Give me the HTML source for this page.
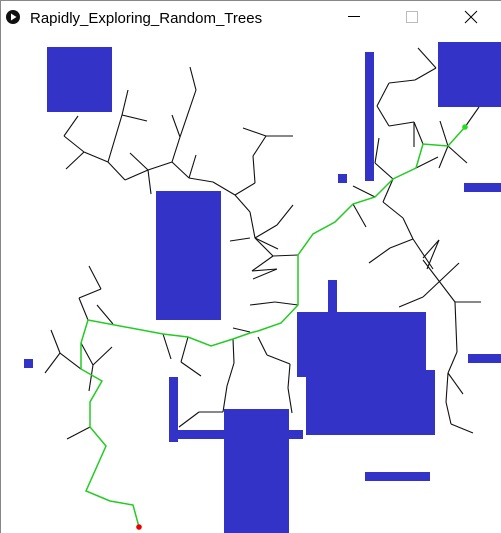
<!DOCTYPE html>
<html><head><meta charset="utf-8"><style>
html,body{margin:0;padding:0;background:#fff;width:501px;height:533px;overflow:hidden}
svg{display:block}
</style></head><body>
<svg id="s" width="501" height="533" viewBox="0 0 501 533" xmlns="http://www.w3.org/2000/svg">
<rect x="0" y="0" width="501" height="533" fill="#fff"/>
<line x1="0" y1="0.5" x2="501" y2="0.5" stroke="#888"/>
<line x1="0.5" y1="0" x2="0.5" y2="533" stroke="#888"/>
<g>
<circle cx="13" cy="17" r="7" fill="#111"/>
<polygon points="11,13.5 11,20.5 16.5,17" fill="#fff"/>
<text x="30" y="23" font-family="Liberation Sans, sans-serif" font-size="15" fill="#000">Rapidly_Exploring_Random_Trees</text>
<line x1="348" y1="16.5" x2="360" y2="16.5" stroke="#000"/>
<rect x="406.5" y="11.5" width="11" height="11" fill="none" stroke="#bbb"/>
<g stroke="#000"><line x1="465" y1="11" x2="477" y2="23"/><line x1="477" y1="11" x2="465" y2="23"/></g>
</g>
<g id="obs"></g>
<g id="tree"></g>
<g id="path"></g>
</svg>
<script>
const obstacles=[[47,47,65,65],[156,191,65,129],[365,52,9,129],[338,174,9,9],[438,42,63,65],[464,183,37,9],[468,354,33,9],[297,312,129,65],[306,370,129,65],[328,280,9,32],[224,409,65,124],[169,430,134,9],[169,377,9,65],[24,359,9,9],[365,472,65,9]];
const pathPts=[[139,527],[133,505],[110,501],[86,491],[106,446],[90,427],[90,402],[102,381],[81,369],[81,343],[88,320],[163,334],[188,337],[211,346],[233,339],[250,333],[258,331],[281,323],[298,305],[298,255],[313,234],[335,222],[353,204],[375,197],[393,179],[416,168],[423,144],[448,146],[465,127]];
const treeSegs=[[78,116,64,136],[64,136,84,152],[84,152,66,169],[84,152,108,162],[108,162,122,115],[122,115,128,90],[122,115,147,121],[108,162,125,180],[125,180,148,170],[148,170,130,153],[148,170,151,194],[148,170,172,162],[172,162,180,137],[180,137,172,115],[180,137,196,90],[196,90,190,67],[172,162,189,178],[189,178,196,155],[189,178,213,182],[213,182,235,195],[243,128,266,136],[266,136,293,136],[266,136,253,156],[253,156,255,183],[255,183,235,195],[235,195,250,212],[250,212,255,238],[255,238,277,225],[277,225,293,205],[255,238,273,256],[273,256,298,255],[255,238,278,249],[273,256,252,271],[252,271,277,269],[277,269,253,279],[230,241,250,238],[250,305,275,302],[275,302,298,305],[258,337,267,355],[267,355,290,364],[290,364,288,388],[288,388,292,413],[233,339,234,363],[234,363,227,386],[227,386,223,412],[223,412,199,412],[199,412,179,427],[233,328,250,332],[188,337,181,362],[181,362,201,376],[163,334,171,359],[113,324,97,305],[88,320,79,298],[79,298,101,289],[101,289,89,266],[81,343,93,365],[93,365,112,347],[93,365,89,391],[81,369,60,353],[60,353,51,330],[60,353,45,373],[90,427,67,439],[418,48,436,68],[436,68,415,80],[415,80,389,83],[389,83,377,106],[377,106,389,126],[389,126,414,122],[414,122,423,144],[414,122,414,147],[479,107,465,127],[448,146,440,121],[448,146,467,163],[448,146,439,168],[416,168,438,157],[393,179,375,163],[375,163,379,138],[375,197,353,186],[353,204,366,227],[393,179,383,202],[383,202,403,218],[403,218,413,239],[413,239,390,248],[390,248,369,263],[413,239,433,269],[423,258,439,240],[439,240,427,269],[423,260,455,302],[455,302,481,302],[459,263,423,297],[423,297,399,307],[455,302,457,352],[457,352,448,373],[448,373,463,394],[448,373,446,402],[446,402,451,424],[451,424,473,433]];
const NS='http://www.w3.org/2000/svg';
const gO=document.getElementById('obs');
obstacles.forEach(o=>{const r=document.createElementNS(NS,'rect');
r.setAttribute('x',o[0]);r.setAttribute('y',o[1]);r.setAttribute('width',o[2]);r.setAttribute('height',o[3]);r.setAttribute('fill','#3333c8');


gO.appendChild(r);});
const gT=document.getElementById('tree');
treeSegs.forEach(s=>{const l=document.createElementNS(NS,'line');
l.setAttribute('x1',s[0]);l.setAttribute('y1',s[1]);l.setAttribute('x2',s[2]);l.setAttribute('y2',s[3]);l.setAttribute('stroke','#111');l.setAttribute('stroke-width','1.1');


gT.appendChild(l);});
const gP=document.getElementById('path');
const pl=document.createElementNS(NS,'polyline');
pl.setAttribute('points',pathPts.map(p=>p.join(',')).join(' '));
pl.setAttribute('fill','none');pl.setAttribute('stroke','#22cc22');pl.setAttribute('stroke-width','1.5');


gP.appendChild(pl);
const st=pathPts[0],gl=pathPts[pathPts.length-1];
const c1=document.createElementNS(NS,'circle');c1.setAttribute('cx',st[0]);c1.setAttribute('cy',st[1]);c1.setAttribute('r','2.8');c1.setAttribute('fill','#ee0000');


gP.appendChild(c1);
const c2=document.createElementNS(NS,'circle');c2.setAttribute('cx',gl[0]);c2.setAttribute('cy',gl[1]);c2.setAttribute('r','2.8');c2.setAttribute('fill','#22dd22');


gP.appendChild(c2);
</script>
</body></html>
